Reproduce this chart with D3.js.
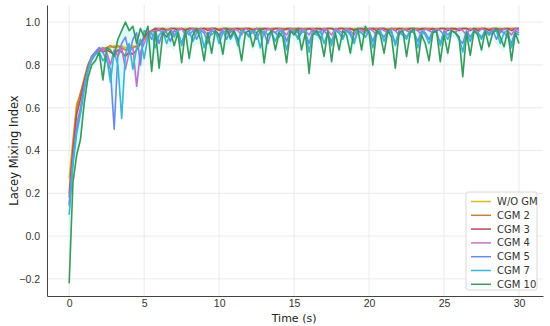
<!DOCTYPE html>
<html>
<head>
<meta charset="utf-8">
<script src="https://cdn.jsdelivr.net/npm/d3@7"></script>
<style>
  html, body { margin: 0; padding: 0; background: #fff; }
  svg { display: block; font-family: "DejaVu Sans", sans-serif; }
</style>
</head>
<body>
<div id="app"></div>
<script>
// sampling step of the recorded curves (s)
const timeStep = 0.25

const seriesNames = ['W/O GM', 'CGM 2', 'CGM 3', 'CGM 4', 'CGM 5', 'CGM 7', 'CGM 10']
const seriesColors = ['#d2bd22', '#c47f38', '#b24c5a', '#c273c9', '#6d8be6', '#38b6d2', '#39995a']

const xTicks = [0, 5, 10, 15, 20, 25, 30]
const yTicks = [-0.2, 0.0, 0.2, 0.4, 0.6, 0.8, 1.0]

const woGM = [
  0.27, 0.45, 0.62, 0.66, 0.74, 0.80, 0.83, 0.85, 0.87, 0.88,
  0.88, 0.88, 0.89, 0.88, 0.89, 0.88, 0.88, 0.89, 0.88, 0.90,
  0.93, 0.95, 0.96, 0.97, 0.97, 0.97, 0.97, 0.97, 0.97, 0.97,
  0.97, 0.97, 0.97, 0.97, 0.97, 0.97, 0.97, 0.97, 0.97, 0.97,
  0.97, 0.97, 0.97, 0.97, 0.97, 0.97, 0.97, 0.97, 0.97, 0.97,
  0.97, 0.97, 0.97, 0.97, 0.97, 0.97, 0.97, 0.97, 0.97, 0.97,
  0.97, 0.97, 0.97, 0.97, 0.97, 0.97, 0.97, 0.97, 0.97, 0.97,
  0.97, 0.97, 0.97, 0.97, 0.97, 0.97, 0.97, 0.97, 0.97, 0.97,
  0.97, 0.97, 0.97, 0.97, 0.97, 0.97, 0.97, 0.97, 0.97, 0.97,
  0.97, 0.97, 0.97, 0.97, 0.97, 0.97, 0.97, 0.97, 0.97, 0.97,
  0.97, 0.97, 0.97, 0.97, 0.97, 0.97, 0.97, 0.97, 0.97, 0.97,
  0.97, 0.97, 0.97, 0.97, 0.97, 0.97, 0.97, 0.97, 0.97, 0.97,
  0.97
]
const cgm2 = [
  0.20, 0.42, 0.60, 0.67, 0.73, 0.80, 0.84, 0.86, 0.88, 0.87,
  0.88, 0.89, 0.88, 0.89, 0.88, 0.87, 0.88, 0.88, 0.89, 0.90,
  0.92, 0.95, 0.96, 0.97, 0.97, 0.97, 0.96, 0.97, 0.97, 0.97,
  0.97, 0.965, 0.97, 0.97, 0.97, 0.965, 0.97, 0.97, 0.97, 0.97,
  0.965, 0.97, 0.97, 0.97, 0.965, 0.97, 0.97, 0.97, 0.97, 0.965,
  0.97, 0.97, 0.97, 0.965, 0.97, 0.97, 0.97, 0.97, 0.965, 0.97,
  0.97, 0.97, 0.965, 0.97, 0.97, 0.97, 0.97, 0.965, 0.97, 0.97,
  0.97, 0.965, 0.97, 0.97, 0.97, 0.97, 0.965, 0.97, 0.97, 0.97,
  0.965, 0.97, 0.97, 0.97, 0.97, 0.965, 0.97, 0.97, 0.97, 0.965,
  0.97, 0.97, 0.97, 0.97, 0.965, 0.97, 0.97, 0.97, 0.965, 0.97,
  0.97, 0.97, 0.97, 0.965, 0.97, 0.97, 0.97, 0.965, 0.97, 0.97,
  0.97, 0.97, 0.965, 0.97, 0.97, 0.97, 0.965, 0.97, 0.97, 0.97,
  0.97
]
const cgm3 = [
  0.18, 0.40, 0.57, 0.64, 0.72, 0.79, 0.83, 0.86, 0.87, 0.86,
  0.87, 0.86, 0.85, 0.87, 0.86, 0.84, 0.86, 0.85, 0.87, 0.90,
  0.93, 0.95, 0.96, 0.97, 0.96, 0.97, 0.96, 0.97, 0.97, 0.96,
  0.97, 0.96, 0.97, 0.97, 0.96, 0.97, 0.97, 0.96, 0.97, 0.97,
  0.96, 0.97, 0.97, 0.96, 0.97, 0.97, 0.96, 0.97, 0.97, 0.96,
  0.97, 0.96, 0.97, 0.97, 0.96, 0.97, 0.97, 0.96, 0.97, 0.97,
  0.96, 0.97, 0.97, 0.96, 0.97, 0.96, 0.97, 0.97, 0.96, 0.97,
  0.97, 0.96, 0.97, 0.97, 0.96, 0.97, 0.96, 0.97, 0.97, 0.96,
  0.97, 0.97, 0.96, 0.97, 0.97, 0.96, 0.97, 0.96, 0.97, 0.97,
  0.96, 0.97, 0.97, 0.96, 0.97, 0.97, 0.96, 0.97, 0.96, 0.97,
  0.97, 0.96, 0.97, 0.97, 0.96, 0.97, 0.97, 0.96, 0.97, 0.96,
  0.97, 0.97, 0.96, 0.97, 0.97, 0.96, 0.97, 0.97, 0.96, 0.97,
  0.97
]
const cgm4 = [
  0.15, 0.36, 0.52, 0.60, 0.70, 0.78, 0.82, 0.85, 0.87, 0.88,
  0.86, 0.80, 0.87, 0.84, 0.88, 0.78, 0.86, 0.88, 0.70, 0.86,
  0.90, 0.94, 0.96, 0.95, 0.97, 0.94, 0.96, 0.97, 0.94, 0.96,
  0.97, 0.94, 0.96, 0.97, 0.95, 0.97, 0.96, 0.94, 0.97, 0.96,
  0.94, 0.97, 0.96, 0.95, 0.97, 0.96, 0.94, 0.97, 0.96, 0.95,
  0.97, 0.96, 0.94, 0.97, 0.96, 0.95, 0.97, 0.96, 0.94, 0.97,
  0.96, 0.95, 0.97, 0.96, 0.94, 0.97, 0.96, 0.95, 0.97, 0.96,
  0.94, 0.97, 0.96, 0.95, 0.97, 0.96, 0.94, 0.97, 0.96, 0.95,
  0.97, 0.96, 0.94, 0.97, 0.96, 0.95, 0.97, 0.96, 0.94, 0.97,
  0.96, 0.95, 0.97, 0.96, 0.94, 0.97, 0.96, 0.95, 0.97, 0.96,
  0.94, 0.97, 0.96, 0.95, 0.97, 0.96, 0.94, 0.97, 0.96, 0.95,
  0.97, 0.96, 0.94, 0.97, 0.96, 0.95, 0.97, 0.96, 0.94, 0.97,
  0.96
]
const cgm5 = [
  0.14, 0.35, 0.50, 0.58, 0.70, 0.78, 0.84, 0.86, 0.88, 0.86,
  0.82, 0.78, 0.50, 0.85, 0.90, 0.93, 0.85, 0.92, 0.95, 0.80,
  0.96, 0.95, 0.92, 0.96, 0.90, 0.96, 0.95, 0.91, 0.96, 0.95,
  0.90, 0.96, 0.94, 0.96, 0.92, 0.96, 0.95, 0.90, 0.96, 0.95,
  0.93, 0.96, 0.92, 0.96, 0.95, 0.91, 0.96, 0.95, 0.94, 0.96,
  0.92, 0.96, 0.95, 0.90, 0.96, 0.95, 0.93, 0.96, 0.91, 0.96,
  0.95, 0.93, 0.96, 0.95, 0.90, 0.96, 0.95, 0.92, 0.96, 0.94,
  0.91, 0.96, 0.95, 0.93, 0.96, 0.95, 0.91, 0.96, 0.95, 0.93,
  0.96, 0.91, 0.96, 0.95, 0.93, 0.96, 0.95, 0.90, 0.96, 0.95,
  0.93, 0.96, 0.95, 0.91, 0.96, 0.95, 0.92, 0.96, 0.95, 0.90,
  0.96, 0.94, 0.96, 0.95, 0.92, 0.90, 0.96, 0.93, 0.96, 0.95,
  0.93, 0.96, 0.95, 0.96, 0.92, 0.96, 0.95, 0.93, 0.90, 0.96,
  0.95
]
const cgm7 = [
  0.10, 0.33, 0.48, 0.57, 0.68, 0.77, 0.83, 0.85, 0.86, 0.82,
  0.84, 0.72, 0.86, 0.80, 0.55, 0.85, 0.90, 0.78, 0.88, 0.92,
  0.83, 0.93, 0.95, 0.88, 0.94, 0.96, 0.90, 0.95, 0.93, 0.96,
  0.89, 0.95, 0.96, 0.91, 0.95, 0.96, 0.88, 0.95, 0.94, 0.96,
  0.90, 0.95, 0.96, 0.92, 0.95, 0.89, 0.96, 0.95, 0.93, 0.96,
  0.95, 0.88, 0.96, 0.94, 0.95, 0.91, 0.96, 0.95, 0.87, 0.95,
  0.96, 0.92, 0.95, 0.96, 0.86, 0.95, 0.94, 0.96, 0.90, 0.95,
  0.89, 0.96, 0.95, 0.92, 0.96, 0.94, 0.90, 0.96, 0.95, 0.93,
  0.96, 0.88, 0.95, 0.96, 0.91, 0.95, 0.96, 0.89, 0.95, 0.94,
  0.92, 0.96, 0.95, 0.88, 0.96, 0.94, 0.90, 0.95, 0.96, 0.89,
  0.95, 0.92, 0.96, 0.95, 0.93, 0.86, 0.95, 0.91, 0.96, 0.95,
  0.92, 0.96, 0.94, 0.95, 0.96, 0.90, 0.95, 0.96, 0.88, 0.95,
  0.94
]
const cgm10 = [
  -0.22, 0.25, 0.38, 0.45, 0.62, 0.74, 0.80, 0.82, 0.86, 0.73,
  0.88, 0.87, 0.84, 0.92, 0.96, 1.00, 0.96, 0.98, 0.90, 0.97,
  0.93, 0.98, 0.77, 0.96, 0.785, 0.95, 0.93, 0.96, 0.89, 0.95,
  0.81, 0.96, 0.83, 0.94, 0.97, 0.92, 0.82, 0.95, 0.855, 0.96,
  0.94, 0.85, 0.97, 0.93, 0.96, 0.92, 0.82, 0.95, 0.96, 0.885,
  0.95, 0.97, 0.81, 0.94, 0.96, 0.87, 0.95, 0.93, 0.81, 0.96,
  0.94, 0.97, 0.87, 0.95, 0.76, 0.94, 0.96, 0.93, 0.84, 0.96,
  0.815, 0.95, 0.87, 0.96, 0.94, 0.855, 0.96, 0.97, 0.87, 0.98,
  0.95, 0.80, 0.96, 0.94, 0.855, 0.96, 0.93, 0.785, 0.95, 0.96,
  0.84, 0.95, 0.97, 0.81, 0.94, 0.90, 0.82, 0.95, 0.96, 0.815,
  0.94, 0.855, 0.96, 0.95, 0.93, 0.745, 0.95, 0.845, 0.96, 0.94,
  0.87, 0.96, 0.885, 0.95, 0.97, 0.93, 0.885, 0.96, 0.82, 0.95,
  0.90
]
const seriesValues = [woGM, cgm2, cgm3, cgm4, cgm5, cgm7, cgm10]

const _config = {
  width: 550,
  height: 326,
  margin: { top: 5, right: 7, bottom: 30, left: 47 },
}

const svg = d3.select('#app')
  .append('svg')
  .attr('width', _config.width)
  .attr('height', _config.height)

const innerW = _config.width - _config.margin.left - _config.margin.right
const innerH = _config.height - _config.margin.top - _config.margin.bottom

const xScale = d3.scaleLinear()
  .domain([-1.48, 31.6])
  .range([0, innerW])
const yScale = d3.scaleLinear()
  .domain([-0.28, 1.08])
  .range([innerH, 0])

const g = svg.append('g')
  .attr('transform', `translate(${_config.margin.left}, ${_config.margin.top})`)

// grid
g.append('g')
  .selectAll('line')
  .data(xTicks)
  .enter()
  .append('line')
  .attr('x1', d => xScale(d))
  .attr('x2', d => xScale(d))
  .attr('y1', 0)
  .attr('y2', innerH)
  .attr('stroke', '#e6e6e6')
  .attr('stroke-width', 0.8)
g.append('g')
  .selectAll('line')
  .data(yTicks)
  .enter()
  .append('line')
  .attr('x1', 0)
  .attr('x2', innerW)
  .attr('y1', d => yScale(d))
  .attr('y2', d => yScale(d))
  .attr('stroke', '#e6e6e6')
  .attr('stroke-width', 0.8)

const rows = woGM.map((_, i) => ({
  t: i * timeStep,
  lo: d3.min(seriesValues, s => s[i]),
  hi: d3.max(seriesValues, s => s[i]),
}))

// faint band behind the curves
g.append('path')
  .datum(rows)
  .attr('fill', '#c4f7f7')
  .attr('opacity', 0.6)
  .attr('d', d3.area()
    .x(d => xScale(d.t))
    .y0(d => yScale(d.lo - 0.025))
    .y1(d => yScale(d.hi + 0.01)))

const line = d3.line()
  .x((d, i) => xScale(i * timeStep))
  .y(d => yScale(d))

g.append('g')
  .selectAll('path')
  .data(seriesValues)
  .enter()
  .append('path')
  .attr('fill', 'none')
  .attr('stroke', (d, i) => seriesColors[i])
  .attr('stroke-width', 1.6)
  .attr('stroke-linejoin', 'round')
  .attr('d', d => line(d))

// axes
const xAxis = d3.axisBottom(xScale)
  .tickValues(xTicks)
  .tickSize(0)
  .tickPadding(4)
  .tickFormat(d3.format('d'))
const yAxis = d3.axisLeft(yScale)
  .tickValues(yTicks)
  .tickSize(0)
  .tickPadding(7)
  .tickFormat(d => d3.format('.1f')(d).replace('-', '\u2212'))

const gx = g.append('g')
  .attr('transform', `translate(0, ${innerH})`)
  .call(xAxis)
const gy = g.append('g')
  .call(yAxis)
gx.select('.domain').attr('stroke', '#444').attr('stroke-width', 1)
gy.select('.domain').attr('stroke', '#444').attr('stroke-width', 1)
svg.selectAll('.tick text')
  .attr('font-size', 10.5)
  .attr('fill', '#333')

svg.append('text')
  .attr('x', _config.margin.left + xScale(15))
  .attr('y', 322)
  .attr('text-anchor', 'middle')
  .attr('font-size', 11)
  .attr('fill', '#222')
  .text('Time (s)')
svg.append('text')
  .attr('transform', `translate(18, ${_config.margin.top + innerH / 2}) rotate(-90)`)
  .attr('text-anchor', 'middle')
  .attr('font-size', 11.5)
  .attr('fill', '#222')
  .text('Lacey Mixing Index')

// legend
const legend = svg.append('g')
  .attr('transform', 'translate(466, 192)')
legend.append('rect')
  .attr('width', 71)
  .attr('height', 98)
  .attr('rx', 2)
  .attr('fill', '#fff')
  .attr('fill-opacity', 0.85)
  .attr('stroke', '#d8d8d8')
const items = legend.selectAll('g.item')
  .data(seriesNames)
  .enter()
  .append('g')
  .attr('class', 'item')
  .attr('transform', (d, i) => `translate(0, ${9.5 + i * 13.8})`)
items.append('line')
  .attr('x1', 5)
  .attr('x2', 25)
  .attr('stroke', (d, i) => seriesColors[i])
  .attr('stroke-width', 1.5)
items.append('text')
  .attr('x', 31)
  .attr('dy', '0.35em')
  .attr('font-size', 10)
  .attr('fill', '#333')
  .text(d => d)
</script>
</body>
</html>
